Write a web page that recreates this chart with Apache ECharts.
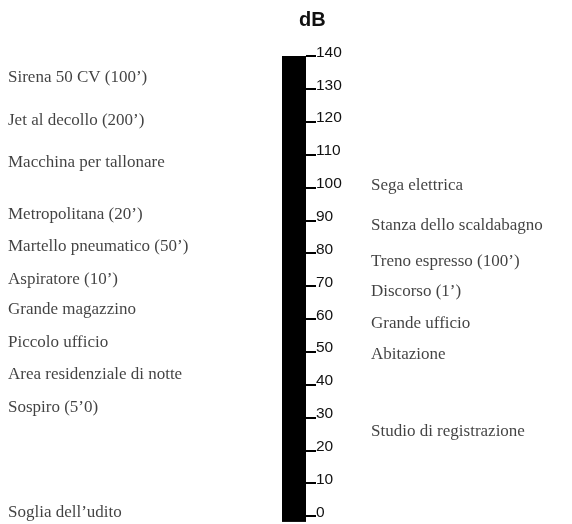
<!DOCTYPE html>
<html>
<head>
<meta charset="utf-8">
<script src="https://cdn.jsdelivr.net/npm/echarts@6/dist/echarts.min.js"></script>
<style>
  html, body { margin: 0; padding: 0; background: #fff; }
  #chart { width: 572px; height: 524px; }
</style>
</head>
<body>
<div id="chart"></div>
<script>
// scala in dB
const scaleMin = 0;
const scaleMax = 140;
const scaleStep = 10;
const barTop = 140;
const barBottom = -1.8;

// sorgenti a sinistra della scala (nome, dB)
const leftNames = [
  "Sirena 50 CV (100’)",
  "Jet al decollo (200’)",
  "Macchina per tallonare",
  "Metropolitana (20’)",
  "Martello pneumatico (50’)",
  "Aspiratore (10’)",
  "Grande magazzino",
  "Piccolo ufficio",
  "Area residenziale di notte",
  "Sospiro (5’0)",
  "Soglia dell’udito",
];
const leftDb = [132.4, 119.5, 106.8, 90.7, 81, 71, 61.8, 51.8, 42, 32, 0];

// sorgenti a destra della scala
const rightNames = [
  "Sega elettrica",
  "Stanza dello scaldabagno",
  "Treno espresso (100’)",
  "Discorso (1’)",
  "Grande ufficio",
  "Abitazione",
  "Studio di registrazione",
];
const rightDb = [99.7, 87.6, 76.4, 67.3, 57.8, 48.1, 24.8];

const chart = echarts.init(document.getElementById("chart"));

const serif = "'Liberation Serif', 'Times New Roman', serif";
const sans = "'Liberation Sans', Arial, sans-serif";

// asse y nascosto per le colonne di testo
const hiddenY = (gridIndex) => ({
  gridIndex: gridIndex,
  type: "value",
  min: scaleMin,
  max: scaleMax,
  show: false,
});
const hiddenX = (gridIndex) => ({
  gridIndex: gridIndex,
  type: "value",
  min: 0,
  max: 1,
  show: false,
});

// serie di etichette ancorate al valore in dB
const textSeries = (idx, names, values) => ({
  type: "scatter",
  xAxisIndex: idx,
  yAxisIndex: idx,
  symbolSize: 0,
  silent: true,
  clip: false,
  data: names.map((n, i) => ({ name: n, value: [0, values[i]] })),
  label: {
    show: true,
    position: "right",
    distance: 0,
    offset: [0, -3],
    formatter: "{b}",
    fontFamily: serif,
    fontSize: 17,
    color: "#111",
  },
});

const option = {
  backgroundColor: "#fff",
  animation: false,
  title: {
    text: "dB",
    left: 299,
    top: 10,
    padding: 0,
    textStyle: { fontFamily: sans, fontSize: 20, fontWeight: "bold", color: "#111" },
  },
  grid: [
    { left: 282, right: 266, top: 56, bottom: 8 },
    { left: 8, width: 260, top: 56, bottom: 8 },
    { left: 371, right: 0, top: 56, bottom: 8 },
  ],
  xAxis: [
    { gridIndex: 0, type: "category", data: ["dB"], show: false },
    hiddenX(1),
    hiddenX(2),
  ],
  yAxis: [
    {
      gridIndex: 0,
      type: "value",
      position: "right",
      min: scaleMin,
      max: scaleMax,
      interval: scaleStep,
      splitLine: { show: false },
      axisLine: { show: false },
      axisTick: { show: true, inside: false, length: 10, lineStyle: { color: "#000", width: 2 } },
      axisLabel: {
        margin: 10,
        fontFamily: sans,
        fontSize: 15.5,
        color: "#111",
        verticalAlign: "bottom",
        lineHeight: 7,
      },
    },
    hiddenY(1),
    hiddenY(2),
  ],
  series: [
    {
      type: "bar",
      stack: "scala",
      barWidth: "100%",
      clip: false,
      silent: true,
      itemStyle: { color: "#000" },
      data: [barTop],
    },
    {
      type: "bar",
      stack: "scala",
      barWidth: "100%",
      clip: false,
      silent: true,
      itemStyle: { color: "#000" },
      data: [barBottom],
    },
    textSeries(1, leftNames, leftDb),
    textSeries(2, rightNames, rightDb),
  ],
};

chart.setOption(option);
</script>
</body>
</html>
